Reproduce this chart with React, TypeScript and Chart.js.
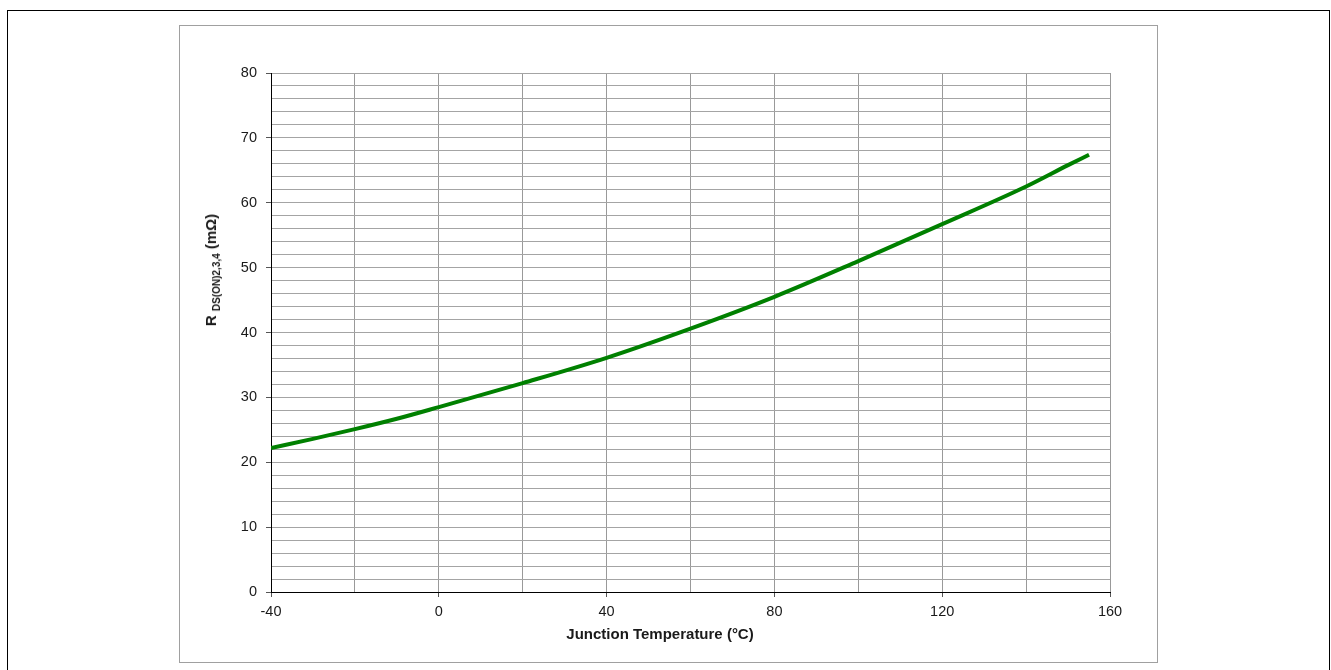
import React, { useEffect, useRef } from 'react';
import { Chart, registerables } from 'chart.js';

Chart.register(...registerables);

const temps = [-40, -30, -20, -10, 0, 20, 40, 60, 80, 100, 120, 140, 150, 155];
const rdsOn = [22.2, 23.6, 25.1, 26.7, 28.5, 32.2, 36.1, 40.6, 45.5, 51.0, 56.7, 62.5, 65.8, 67.4];
const xLabelStep = 40;
const yLabelStep = 10;

const FONT = "'Liberation Sans', Arial, Helvetica, sans-serif";

export default function App() {
  const ref = useRef<HTMLCanvasElement>(null);

  useEffect(() => {
    const chart = new Chart(ref.current as HTMLCanvasElement, {
      type: 'line',
      data: {
        datasets: [
          {
            data: temps.map((t, i) => ({ x: t, y: rdsOn[i] })),
            borderColor: '#008000',
            borderWidth: 4,
            pointRadius: 0,
            cubicInterpolationMode: 'monotone',
            fill: false,
          },
        ],
      },
      options: {
        responsive: false,
        maintainAspectRatio: false,
        animation: false,
        layout: { padding: { left: 0, right: 47, top: 48, bottom: 0 } },
        plugins: { legend: { display: false }, tooltip: { enabled: false } },
        scales: {
          x: {
            type: 'linear',
            min: -40,
            max: 160,
            afterFit: (s: any) => {
              s.height = 70;
            },
            border: { color: '#000', width: 1 },
            grid: {
              color: '#999999',
              lineWidth: 1,
              tickLength: 5,
              tickColor: (ctx: any) =>
                ctx.tick && ctx.tick.value % xLabelStep === 0 ? '#555' : 'rgba(0,0,0,0)',
            },
            ticks: {
              stepSize: 20,
              autoSkip: false,
              maxRotation: 0,
              padding: 6,
              color: '#1a1a1a',
              font: { family: FONT, size: 14.5 },
              callback: (v: any) => (Number(v) % xLabelStep === 0 ? String(v) : ''),
            },
          },
          y: {
            type: 'linear',
            min: 0,
            max: 80,
            afterFit: (s: any) => {
              s.width = 92;
            },
            border: { color: '#000', width: 1 },
            grid: {
              color: '#a4a4a4',
              lineWidth: 1,
              tickLength: 5,
              tickColor: (ctx: any) =>
                ctx.tick && ctx.tick.value % yLabelStep === 0 ? '#555' : 'rgba(0,0,0,0)',
            },
            ticks: {
              stepSize: 2,
              maxTicksLimit: 100,
              autoSkip: false,
              padding: 9,
              color: '#1a1a1a',
              font: { family: FONT, size: 14.5 },
              callback: (v: any) => (Number(v) % yLabelStep === 0 ? String(v) : ''),
            },
          },
        },
      },
    } as any);
    return () => chart.destroy();
  }, []);

  return (
    <div style={{ position: 'absolute', left: 0, top: 0, width: 1331, height: 670, overflow: 'hidden', fontFamily: FONT }}>
      <div
        style={{
          position: 'absolute',
          left: 7,
          top: 10,
          width: 1323,
          height: 660,
          boxSizing: 'border-box',
          borderTop: '1px solid #000',
          borderLeft: '1px solid #000',
          borderRight: '1px solid #000',
        }}
      />
      <div
        style={{
          position: 'absolute',
          left: 179,
          top: 25,
          width: 979,
          height: 638,
          boxSizing: 'border-box',
          border: '1px solid #a0a0a0',
        }}
      />
      <canvas
        ref={ref}
        width={978}
        height={637}
        style={{ position: 'absolute', left: 179, top: 25, width: 978, height: 637 }}
      />
      <div
        style={{
          position: 'absolute',
          left: 660,
          top: 633,
          transform: 'translate(-50%, -50%)',
          whiteSpace: 'nowrap',
          fontWeight: 'bold',
          fontSize: 15,
          color: '#1a1a1a',
        }}
      >
        Junction Temperature (°C)
      </div>
      <div
        style={{
          position: 'absolute',
          left: 214,
          top: 270,
          transform: 'translate(-50%, -50%) rotate(-90deg)',
          whiteSpace: 'nowrap',
          fontWeight: 'bold',
          fontSize: 15,
          color: '#1a1a1a',
          lineHeight: '18px',
        }}
      >
        R <span style={{ fontSize: 10, verticalAlign: 'sub' }}>DS(ON)2,3,4</span> (mΩ)
      </div>
    </div>
  );
}
